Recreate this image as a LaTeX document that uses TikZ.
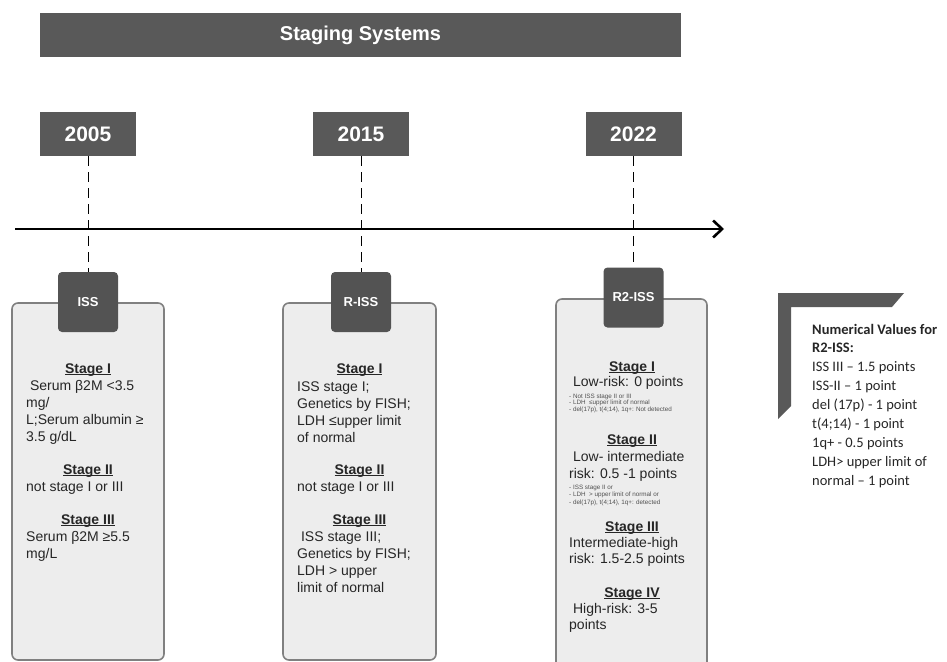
\documentclass[tikz,border=0pt]{standalone}
\usepackage{fontspec}
\setmainfont{Liberation Sans}
\newfontfamily\carlito{Carlito}
\usetikzlibrary{arrows.meta}

\definecolor{bargray}{HTML}{595959}
\definecolor{tabgray}{HTML}{535353}
\definecolor{panelfill}{HTML}{EDEDED}
\definecolor{paneledge}{HTML}{808080}
\definecolor{inktext}{HTML}{262626}

\newcommand\stagehead[1]{\setbox0\hbox{#1}\rlap{\rule[-2pt]{\wd0}{1.2pt}}#1}

\tikzset{
  darkbar/.style={fill=bargray, text=white, inner sep=0, font=\bfseries\fontsize{20}{24}\selectfont},
  yearbox/.style={darkbar, minimum width=96pt, minimum height=44pt, font=\bfseries\fontsize{21}{24}\selectfont},
  tabbox/.style={fill=tabgray, text=white, rounded corners=4pt, inner sep=0,
    minimum width=60pt, minimum height=60pt, font=\bfseries\fontsize{13}{15}\selectfont},
  panel/.style={fill=panelfill, draw=paneledge, line width=1.6pt, rounded corners=6pt},
  guide/.style={draw=black, line width=0.9pt, dash pattern=on 10pt off 6pt},
  timeline/.style={line width=2.6pt, -{Straight Barb[length=9pt,width=17pt]}},
  head/.style={anchor=base, inner sep=0, text=inktext, font=\bfseries\fontsize{14}{17}\selectfont},
  body/.style={anchor=base west, inner sep=0, text=inktext, font=\fontsize{14}{17}\selectfont},
  tiny/.style={anchor=base west, inner sep=0, text=inktext!80, font=\fontsize{6.3}{7}\selectfont},
  notes/.style={anchor=base west, inner sep=0, text=inktext, font=\carlito\fontsize{14.5}{19}\selectfont}
}

\begin{document}
\begin{tikzpicture}[x=1pt,y=-1pt]
\useasboundingbox (0,0) rectangle (947,661);
\clip (0,0) rectangle (947,661);

% title and years
\node[darkbar, minimum width=641pt, minimum height=44pt] (title) at (360.5,35) {Staging Systems};
\node[yearbox] (y05) at (88,134) {2005};
\node[yearbox] (y15) at (361,134) {2015};
\node[yearbox] (y22) at (633.5,134) {2022};

% panels
\draw[panel] (12,303) rectangle (164,660);
\draw[panel] (283,303) rectangle (436,660);
\draw[panel] (556,299) rectangle (707,690);

\node[tabbox] (t-iss) at (88,302) {ISS};
\node[tabbox] (t-riss) at (361,302) {R-ISS};
\node[tabbox] (t-r2) at (633.5,297.5) {R2-ISS};

\draw[guide] (y05) -- (t-iss);
\draw[guide] (y15) -- (t-riss);
\draw[guide] (y22) -- (t-r2);

% time axis
\coordinate (tl-a) at (15,229);
\coordinate (tl-b) at (724,229);
\draw[timeline] (tl-a) -- (tl-b);

% ISS
\node[head] (iss-h1) at (88,373) {\stagehead{Stage I}};
\foreach \t [count=\i from 0] in {{\ Serum β2M <3.5},{mg/},{L;Serum albumin ≥},{3.5 g/dL}}
  \node[body] (iss-a\i) at (26,390+17*\i) {\t};
\node[head] (iss-h2) at (88,474) {\stagehead{Stage II}};
\node[body] (iss-b0) at (26,491) {not stage I or III};
\node[head] (iss-h3) at (88,524) {\stagehead{Stage III}};
\foreach \t [count=\i from 0] in {{Serum β2M ≥5.5},{mg/L}}
  \node[body] (iss-c\i) at (26,541+17*\i) {\t};

% R-ISS
\node[head] (riss-h1) at (359.5,373) {\stagehead{Stage I}};
\foreach \t [count=\i from 0] in {{ISS stage I;},{Genetics by FISH;},{LDH ≤upper limit},{of normal}}
  \node[body] (riss-a\i) at (297,391+17*\i) {\t};
\node[head] (riss-h2) at (359.5,474) {\stagehead{Stage II}};
\node[body] (riss-b0) at (297,491) {not stage I or III};
\node[head] (riss-h3) at (359.5,524) {\stagehead{Stage III}};
\foreach \t [count=\i from 0] in {{\ ISS stage III;},{Genetics by FISH;},{LDH > upper},{limit of normal}}
  \node[body] (riss-c\i) at (297,541+17*\i) {\t};

% R2-ISS
\node[head] (r2-h1) at (632,371) {\stagehead{Stage I}};
\node[body] (r2-a0) at (569,386) {\ Low-risk: 0 points};
\foreach \t [count=\i from 0] in {{- Not ISS stage II or III},{- LDH\ \ ≤upper limit of normal},{- del(17p), t(4;14), 1q+: Not detected}}
  \node[tiny] (r2-s\i) at (569,398+6.6*\i) {\t};
\node[head] (r2-h2) at (632,444) {\stagehead{Stage II}};
\foreach \t [count=\i from 0] in {{\ Low- intermediate},{risk: 0.5 -1 points}}
  \node[body] (r2-b\i) at (569,461+17*\i) {\t};
\foreach \t [count=\i from 0] in {{- ISS stage II or},{- LDH\ \ > upper limit of normal or},{- del(17p), t(4;14), 1q+: detected}}
  \node[tiny] (r2-u\i) at (569,489+7.5*\i) {\t};
\node[head] (r2-h3) at (632,531) {\stagehead{Stage III}};
\foreach \t [count=\i from 0] in {{Intermediate-high},{risk: 1.5-2.5 points}}
  \node[body] (r2-c\i) at (569,547+16*\i) {\t};
\node[head] (r2-h4) at (632,597) {\stagehead{Stage IV}};
\foreach \t [count=\i from 0] in {{\ High-risk: 3-5},{points}}
  \node[body] (r2-d\i) at (569,613+16*\i) {\t};

% point values
\fill[bargray] (778,293) -- (904,293) -- (892,307) -- (791,307) -- (791,406) -- (778,419) -- cycle;
\foreach \t [count=\i from 0] in {{\textbf{Numerical Values for}},{\textbf{R2-ISS:}},{ISS III – 1.5 points},{ISS-II – 1 point},{del (17p) - 1 point},{t(4;14) - 1 point},{1q+ - 0.5 points},{LDH> upper limit of},{normal – 1 point}}
  \node[notes] (pts-\i) at (812,334+18.9*\i) {\t};
\end{tikzpicture}
\end{document}
